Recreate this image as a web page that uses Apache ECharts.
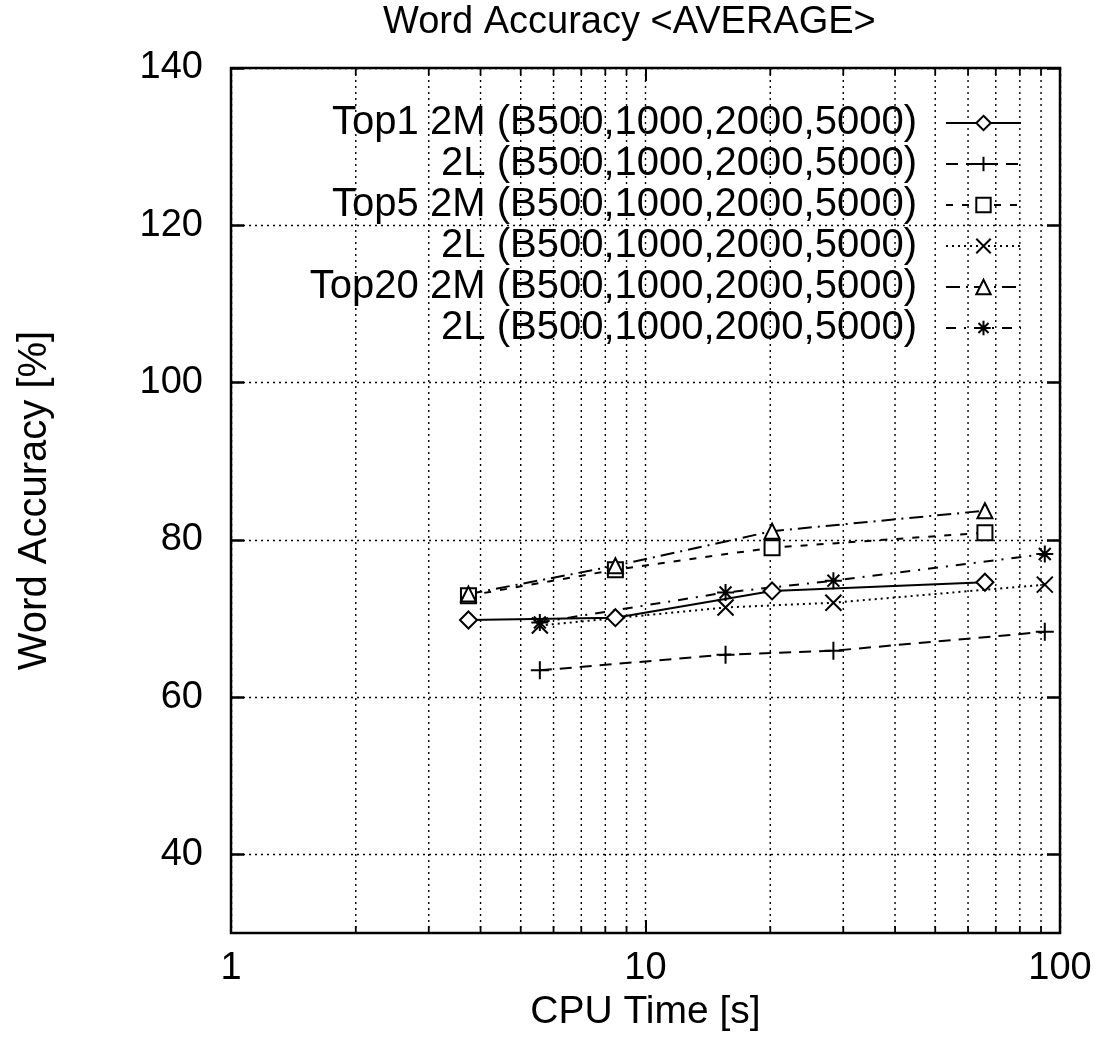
<!DOCTYPE html>
<html>
<head>
<meta charset="utf-8">
<script src="https://cdn.jsdelivr.net/npm/echarts@6/dist/echarts.min.js"></script>
<style>
html,body{margin:0;padding:0;background:#fff;}
#chart{width:1101px;height:1038px;}
</style>
</head>
<body>
<div id="chart"></div>
<script>
// ---- data ----
const legendLabels = [
  'Top1 2M (B500,1000,2000,5000)',
  '2L (B500,1000,2000,5000)',
  'Top5 2M (B500,1000,2000,5000)',
  '2L (B500,1000,2000,5000)',
  'Top20 2M (B500,1000,2000,5000)',
  '2L (B500,1000,2000,5000)'
];
const seriesKeys = ['Top1 2M', 'Top1 2L', 'Top5 2M', 'Top5 2L', 'Top20 2M', 'Top20 2L'];
const top1_2M  = [[3.74, 69.8], [8.46, 70.1], [20.2, 73.5], [65.9, 74.6]];
const top1_2L  = [[5.56, 63.4], [15.6, 65.4], [28.4, 65.9], [91.9, 68.3]];
const top5_2M  = [[3.74, 72.9], [8.46, 76.2], [20.2, 79.0], [65.9, 80.9]];
const top5_2L  = [[5.56, 69.1], [15.6, 71.4], [28.4, 72.0], [91.9, 74.3]];
const top20_2M = [[3.74, 73.1], [8.46, 76.7], [20.2, 81.1], [65.9, 83.7]];
const top20_2L = [[5.56, 69.5], [15.6, 73.3], [28.4, 74.8], [91.9, 78.2]];
const yTicks = [40, 60, 80, 100, 120, 140];
const xMinorGrid = [2, 3, 4, 5, 6, 7, 8, 9, 20, 30, 40, 50, 60, 70, 80, 90];
const xMin = 1, xMax = 100, yMin = 30, yMax = 140;

// ---- chart ----
const FONT = 'Liberation Sans';
const chart = echarts.init(document.getElementById('chart'));

const symPlus = 'path://M5,0L5,10M0,5L10,5';
const symCross = 'path://M0,0L10,10M10,0L0,10';
const symStar = 'path://M5,0L5,10M0,5L10,5M1.5,1.5L8.5,8.5M8.5,1.5L1.5,8.5';

const seriesData = [top1_2M, top1_2L, top5_2M, top5_2L, top20_2M, top20_2L];
const symbols = ['emptyDiamond', symPlus, 'emptyRect', symCross, 'emptyTriangle', symStar];
const symbolSizes = [17, 18, 15, 16, 15, 17];
const dashes = ['solid', [12, 8], [7, 9], [2, 4], [14, 6, 2, 6], [10, 8, 2, 8]];

const lineSeries = seriesKeys.map((k, i) => ({
  name: k,
  type: 'line',
  data: seriesData[i],
  symbol: symbols[i],
  symbolSize: symbolSizes[i],
  showAllSymbol: true,
  lineStyle: { color: '#000', width: 2, type: dashes[i] },
  itemStyle: { color: '#000', borderColor: '#000', borderWidth: 2 },
  emphasis: { disabled: true },
  z: 5
}));

const gridSeries = {
  type: 'custom',
  silent: true,
  data: xMinorGrid.map(v => [v, yMin]),
  encode: { x: 0, y: 1 },
  z: 1,
  renderItem: function (params, api) {
    const x = api.value(0);
    const t = api.coord([x, yMax]);
    const b = api.coord([x, yMin]);
    return {
      type: 'group',
      children: [
        { type: 'line', shape: { x1: t[0], y1: t[1], x2: b[0], y2: b[1] },
          style: { stroke: '#000', lineWidth: 1.4, lineDash: [2, 4] } },
        { type: 'line', shape: { x1: b[0], y1: b[1], x2: b[0], y2: b[1] - 7 },
          style: { stroke: '#000', lineWidth: 1.8 } },
        { type: 'line', shape: { x1: t[0], y1: t[1], x2: t[0], y2: t[1] + 7 },
          style: { stroke: '#000', lineWidth: 1.8 } }
      ]
    };
  }
};

const rowCenters = [123, 164, 205, 246, 287, 328];
const legends = seriesKeys.map((k, i) => ({
  data: [k],
  right: 79,
  top: rowCenters[i] - 21,
  padding: 0,
  align: 'right',
  orient: 'vertical',
  itemWidth: 75,
  itemHeight: 18,
  selectedMode: false,
  formatter: function () { return legendLabels[i]; },
  textStyle: { fontFamily: FONT, fontSize: 40, color: '#000', lineHeight: 42, padding: [0, 24, 0, 0] }
}));

const option = {
  animation: false,
  backgroundColor: '#fff',
  title: {
    text: 'Word Accuracy <AVERAGE>',
    left: 383, top: 4, padding: 0,
    textStyle: { fontFamily: FONT, fontSize: 38, fontWeight: 'normal', color: '#000' }
  },
  legend: legends,
  grid: { left: 231, right: 41, top: 68, bottom: 105, show: true, borderColor: '#000', borderWidth: 2.5, containLabel: false },
  xAxis: [{
    type: 'log', logBase: 10, min: xMin, max: xMax, position: 'bottom',
    name: 'CPU Time [s]', nameLocation: 'middle', nameGap: 57,
    nameTextStyle: { fontFamily: FONT, fontSize: 39, color: '#000' },
    axisLine: { show: false },
    axisTick: { show: true, inside: true, length: 13, lineStyle: { color: '#000', width: 2 } },
    axisLabel: { fontFamily: FONT, fontSize: 38, color: '#000', margin: 17 },
    splitLine: { show: true, lineStyle: { color: '#000', width: 1.4, type: [2, 4] } },
    minorTick: { show: false }
  }, {
    type: 'log', logBase: 10, min: xMin, max: xMax, position: 'top',
    axisLine: { show: false },
    axisTick: { show: true, inside: true, length: 13, lineStyle: { color: '#000', width: 2 } },
    axisLabel: { show: false },
    splitLine: { show: false }
  }],
  yAxis: [{
    type: 'value', min: yMin, max: yMax, position: 'left',
    name: 'Word Accuracy [%]', nameLocation: 'middle', nameGap: 176,
    nameTextStyle: { fontFamily: FONT, fontSize: 40, color: '#000' },
    axisLine: { show: false },
    axisTick: { show: true, inside: true, length: 13, customValues: yTicks, lineStyle: { color: '#000', width: 2.5 } },
    axisLabel: { fontFamily: FONT, fontSize: 38, color: '#000', margin: 28, customValues: yTicks },
    splitLine: { show: true, lineStyle: { color: '#000', width: 1.4, type: [2, 4] } }
  }, {
    type: 'value', min: yMin, max: yMax, position: 'right',
    axisLine: { show: false },
    axisTick: { show: true, inside: true, length: 13, customValues: yTicks, lineStyle: { color: '#000', width: 2.5 } },
    axisLabel: { show: false, customValues: yTicks },
    splitLine: { show: false }
  }],
  series: [gridSeries].concat(lineSeries)
};
chart.setOption(option);
</script>
</body>
</html>
